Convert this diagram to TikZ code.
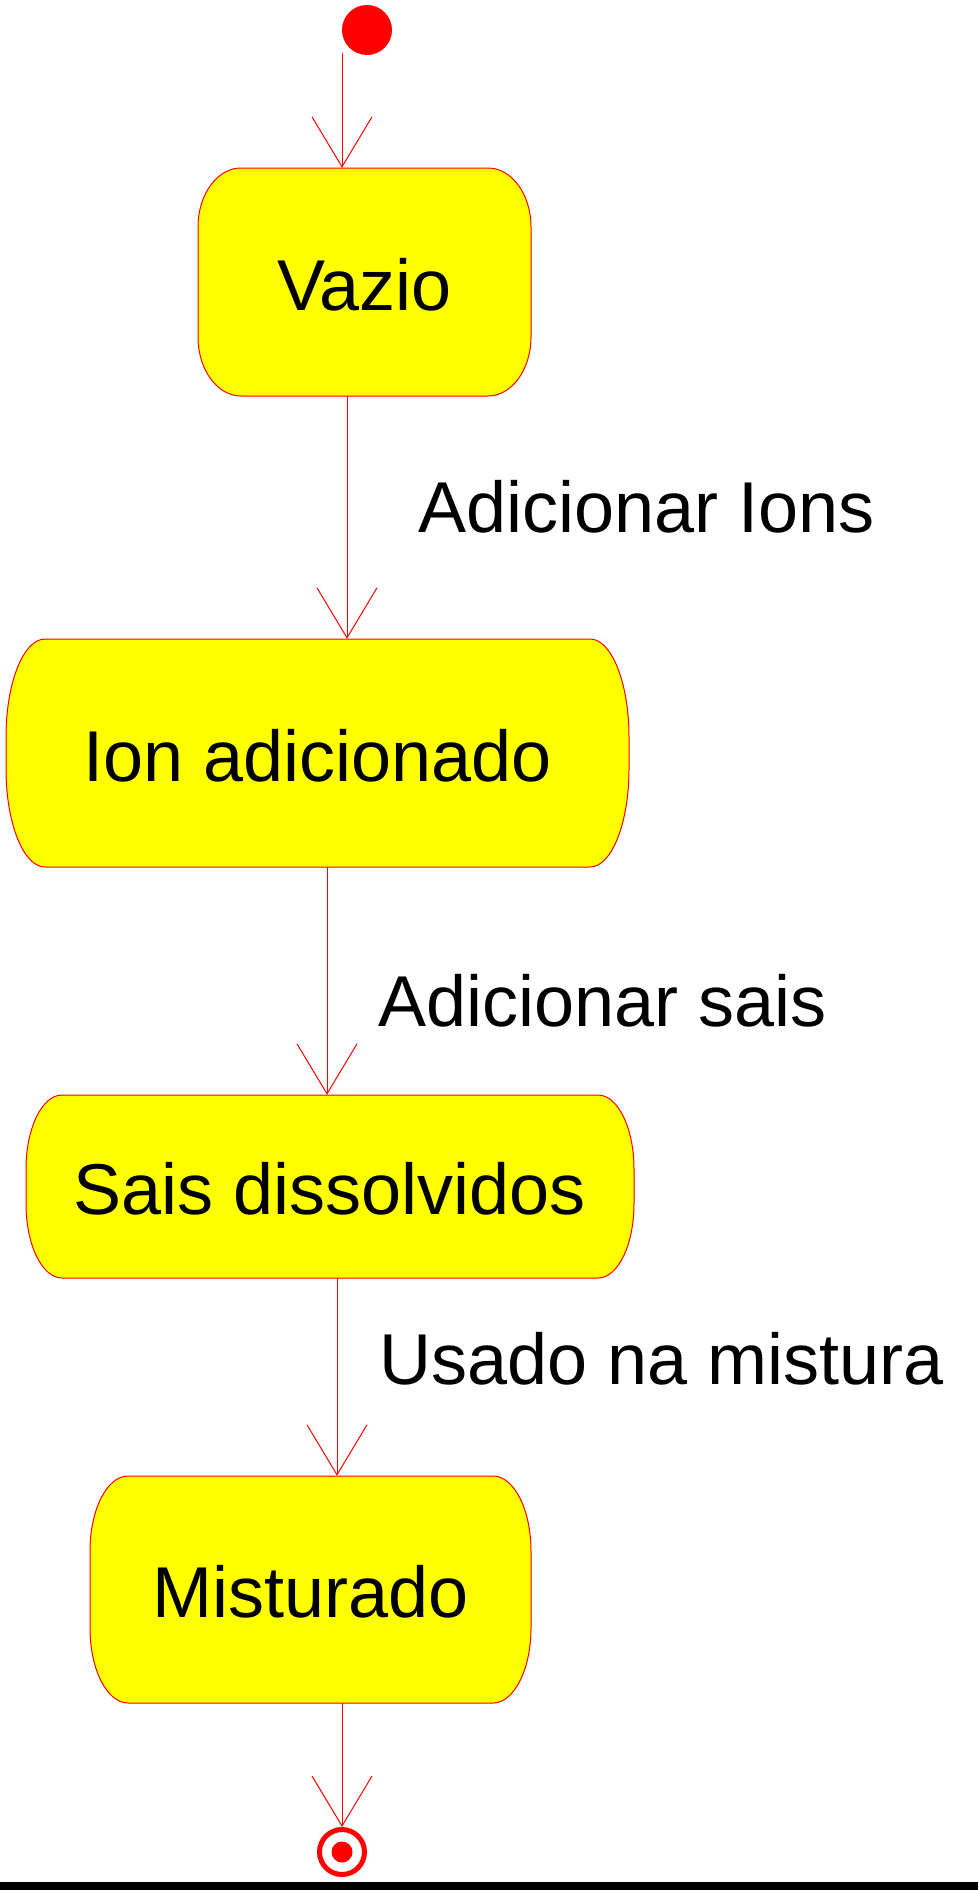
\documentclass[tikz,border=0pt]{standalone}
\usepackage{fontspec}
\setmainfont{Liberation Sans}
\usetikzlibrary{arrows.meta}
\definecolor{umlred}{RGB}{255,0,0}
\definecolor{umlyellow}{RGB}{255,255,0}
\tikzset{
  stshape/.style={draw=umlred, fill=umlyellow, line width=1pt},
  sttext/.style={inner sep=0pt, text height=56pt, text depth=0pt,
    font=\fontsize{72pt}{86pt}\selectfont},
  trans/.style={draw=umlred, line width=1pt,
    -{Straight Barb[length=50pt, width=60pt, line width=1pt]}},
  translabel/.style={inner sep=0pt, anchor=base west,
    font=\fontsize{72pt}{86pt}\selectfont},
  initstate/.style={circle, fill=umlred, minimum size=50pt, inner sep=0pt},
  finalstate/.style={circle, draw=umlred, line width=5pt, minimum size=45pt, inner sep=0pt},
}
% name, text, x1, y1, x2, y2, rx, ry
\newcommand\umlstate[8]{%
  \path[stshape] ({#3+#7},#4) -- ({#5-#7},#4)
    arc[start angle=270, end angle=360, x radius=#7, y radius=#8]
    -- (#5,{#6-#8})
    arc[start angle=0, end angle=90, x radius=#7, y radius=#8]
    -- ({#3+#7},#6)
    arc[start angle=90, end angle=180, x radius=#7, y radius=#8]
    -- (#3,{#4+#8})
    arc[start angle=180, end angle=270, x radius=#7, y radius=#8]
    -- cycle;
  \node[sttext, minimum width={#5-#3}, minimum height={#6-#4}]
    (#1) at ({(#3+#5)/2},{(#4+#6)/2}) {#2};
}
\begin{document}
\begin{tikzpicture}[x=1pt, y=-1pt]
  \useasboundingbox (0,0) rectangle (978,1890);
  \fill[white] (0,0) rectangle (978,1890);
  \fill[black] (0,1882) rectangle (978,1890);

  \umlstate{vazio}{Vazio}{198}{168}{531}{396}{43}{59}
  \umlstate{ion}{Ion adicionado}{6}{639}{629}{867}{39}{98}
  \umlstate{sais}{Sais dissolvidos}{26}{1095}{634}{1278}{36}{74}
  \umlstate{mist}{Misturado}{90}{1476}{531}{1703}{38}{75}

  \node[initstate] (start) at (367,30) {};
  \node[finalstate] (final) at (342,1852) {};
  \fill[umlred] (final.center) circle[radius=10.5pt];

  \coordinate (s0) at (342,53);
  \coordinate (xa) at (347,0);
  \coordinate (xb) at (327,0);
  \coordinate (xc) at (337,0);
  \coordinate (xd) at (342,0);

  \draw[trans] (s0) -- (s0 |- vazio.north);
  \draw[trans] (vazio.south -| xa) -- (ion.north -| xa);
  \draw[trans] (ion.south -| xb) -- (sais.north -| xb);
  \draw[trans] (sais.south -| xc) -- (mist.north -| xc);
  \draw[trans] (mist.south -| xd) -- (final.north);

  \node[translabel] (l1) at (418,532) {Adicionar Ions};
  \node[translabel] (l2) at (378,1026) {Adicionar sais};
  \node[translabel] (l3) at (379,1384) {Usado na mistura};
\end{tikzpicture}
\end{document}
